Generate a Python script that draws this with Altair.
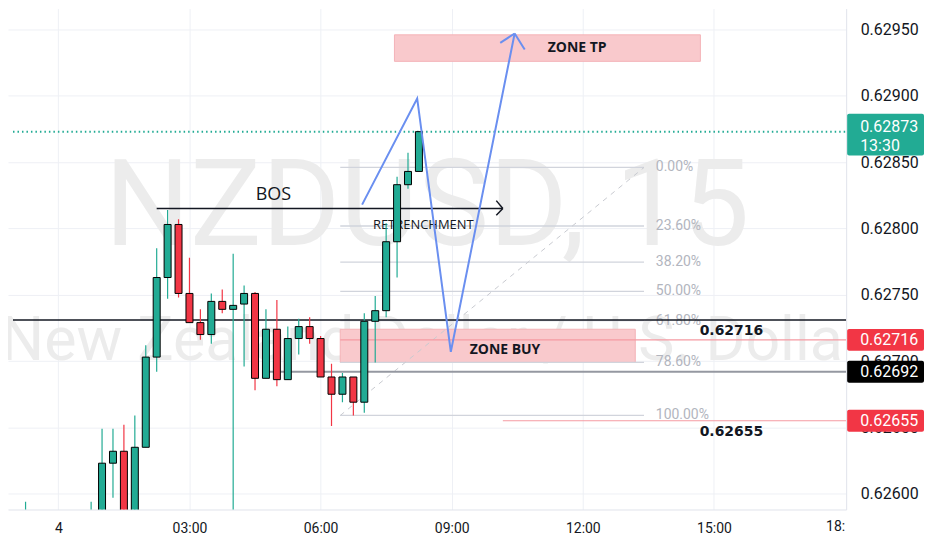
import altair as alt
import pandas as pd

# ---------------- data ----------------
# candle time in hours from 00:00 (15-minute bars)
c_time = [-0.75, 0.75, 1.0, 1.25, 1.5, 1.75, 2.0, 2.25, 2.5, 2.75, 3.0, 3.25, 3.5, 3.75,
          4.0, 4.25, 4.5, 4.75, 5.0, 5.25, 5.5, 5.75, 6.0, 6.25, 6.5, 6.75, 7.0, 7.25,
          7.5, 7.75, 8.0, 8.25]
c_open = [0.62575, 0.62578, 0.62580, 0.62623, 0.62632, 0.62582, 0.62635, 0.62703, 0.62763,
          0.62803, 0.62751, 0.62729, 0.62720, 0.62745, 0.62739, 0.62743, 0.62751, 0.62687,
          0.62724, 0.62686, 0.62717, 0.62726, 0.62717, 0.62688, 0.62675, 0.62688, 0.62669,
          0.62730, 0.62738, 0.62790, 0.62833, 0.62843]
c_high = [0.62594, 0.62594, 0.62649, 0.62649, 0.62652, 0.62659, 0.62712, 0.62785, 0.62814,
          0.62807, 0.62778, 0.62739, 0.62751, 0.62754, 0.62781, 0.62757, 0.62752, 0.62739,
          0.62746, 0.62726, 0.62732, 0.62733, 0.62719, 0.62698, 0.62691, 0.62688, 0.62736,
          0.62749, 0.62804, 0.62839, 0.62857, 0.62873]
c_low = [0.62570, 0.62570, 0.62575, 0.62597, 0.62575, 0.62578, 0.62635, 0.62692, 0.62747,
         0.62748, 0.62729, 0.62716, 0.62713, 0.62736, 0.62585, 0.62696, 0.62678, 0.62687,
         0.62681, 0.62686, 0.62705, 0.62713, 0.62688, 0.62651, 0.62669, 0.62659, 0.62661,
         0.62699, 0.62733, 0.62763, 0.62830, 0.62843]
c_close = [0.62585, 0.62587, 0.62623, 0.62632, 0.62582, 0.62635, 0.62703, 0.62763, 0.62803,
           0.62751, 0.62729, 0.62720, 0.62745, 0.62739, 0.62742, 0.62751, 0.62687, 0.62724,
           0.62686, 0.62717, 0.62726, 0.62717, 0.62688, 0.62675, 0.62688, 0.62669, 0.62730,
           0.62738, 0.62790, 0.62833, 0.62843, 0.62873]

price_ticks = [0.62600, 0.62650, 0.62700, 0.62750, 0.62800, 0.62850, 0.62900, 0.62950]
time_ticks = [0, 3, 6, 9, 12, 15]

# fibonacci retracement
fib_levels = ["0.00%", "23.60%", "38.20%", "50.00%", "61.80%", "78.60%", "100.00%"]
fib_ratio = [0.0, 0.236, 0.382, 0.5, 0.618, 0.786, 1.0]
fib_top, fib_bottom = 0.62846, 0.62659
fib_start, fib_end = 6.45, 13.40

# zones
zone_names = ["ZONE TP", "ZONE BUY"]
zone_x1 = [7.69, 6.45]
zone_x2 = [14.69, 13.20]
zone_lo = [0.62926, 0.62699]
zone_hi = [0.62946, 0.62724]
zone_label_x = [11.87, 10.22]
zone_label_y = [0.62936, 0.627085]

# blue projected path
path_x = [6.95, 8.21, 8.98, 10.44]
path_y = [0.62818, 0.62898, 0.62707, 0.62947]
path_head_x = [10.11, 10.67]
path_head_y = [0.62940, 0.62935]

# BOS
bos_level = 0.62815
bos_x1, bos_x2 = 2.25, 10.17
bos_head_x = 10.02
bos_head_y = [0.62821, 0.62810]

# horizontal price levels
lvl_black = 0.62731
lvl_red1 = 0.62716
lvl_gray = 0.62692
lvl_red2 = 0.62655
last_price = 0.62873

X0, X1 = -1.0377, 17.911
Y0, Y1 = 0.625881, 0.629658

GREEN = "#22ab94"
RED = "#f23645"

xs = alt.Scale(domain=[X0, X1], nice=False, zero=False)
ys = alt.Scale(domain=[Y0, Y1], nice=False, zero=False)

x_axis = alt.Axis(values=time_ticks, title=None, grid=True, gridColor="#eef0f5", tickSize=0,
                  domainColor="#e0e3eb", labelFontSize=14, labelColor="#131722", labelFont="Roboto",
                  labelPadding=12, labelFlush=False, labelOverlap=False,
                  labelExpr="datum.value == 0 ? '4' : (datum.value < 10 ? '0' : '') + datum.value + ':00'")
y_axis = alt.Axis(orient="right", values=price_ticks, format=".5f", title=None, grid=True,
                  gridColor="#eef0f5", tickSize=0, domainColor="#e0e3eb", labelFontSize=16,
                  labelColor="#131722", labelFont="Roboto", labelPadding=14, labelFlush=False,
                  labelOverlap=False)


def X(field):
    return alt.X(field, type="quantitative", scale=xs, axis=x_axis)


def Y(field):
    return alt.Y(field, type="quantitative", scale=ys, axis=y_axis)


candles = pd.DataFrame({"t": c_time, "o": c_open, "h": c_high, "l": c_low, "c": c_close})
candles["dir"] = ["up" if c >= o else "down" for o, c in zip(c_open, c_close)]
color = alt.Color("dir:N", scale=alt.Scale(domain=["up", "down"], range=[GREEN, RED]), legend=None)

one = pd.DataFrame({"a": [0]})

# watermark
wm1 = alt.Chart(one).mark_text(text="NZDUSD, 15", fontSize=120, font="Roboto",
                               color="#ececec", align="center", baseline="alphabetic",
                               clip=True).encode(x=alt.value(420), y=alt.value(237))
wm2 = alt.Chart(one).mark_text(text="New Zealand Dollar / U.S. Dollar", fontSize=61,
                               font="Roboto", color="#ececec", align="center",
                               baseline="alphabetic", clip=True).encode(x=alt.value(425), y=alt.value(352))

# grid carrier layer (axes)
grid = alt.Chart(candles).mark_point(opacity=0).encode(x=X("t"), y=Y("c"))

zones = pd.DataFrame({"name": zone_names, "x1": zone_x1, "x2": zone_x2, "lo": zone_lo, "hi": zone_hi,
                      "lx": zone_label_x, "ly": zone_label_y})
zone_rect = alt.Chart(zones).mark_rect(fill="#f9c9cc", stroke="#f4b3b8", strokeWidth=1, clip=True).encode(
    x=X("x1"), x2="x2", y=Y("lo"), y2="hi")
zone_text = alt.Chart(zones).mark_text(fontSize=14, fontWeight="bold", font="Open Sans", color="#131722",
                                       clip=True).encode(x=X("lx"), y=Y("ly"), text="name:N")

fib = pd.DataFrame({"label": fib_levels,
                    "p": [fib_top - r * (fib_top - fib_bottom) for r in fib_ratio]})
fib["x1"] = fib_start
fib["x2"] = fib_end
fib["lx"] = fib_end + 0.27
fib_lines = alt.Chart(fib).mark_rule(color="#d1d4dc", strokeWidth=1.3, clip=True).encode(
    x=X("x1"), x2="x2", y=Y("p"))
fib_text = alt.Chart(fib).mark_text(align="left", baseline="middle", fontSize=14, font="Roboto",
                                    color="#b2b5be", clip=True).encode(x=X("lx"), y=Y("p"), text="label:N")
fib_diag = alt.Chart(pd.DataFrame({"x1": [fib_start], "x2": [fib_end], "y1": [fib_bottom], "y2": [fib_top]})
                     ).mark_rule(color="#c8cad0", strokeDash=[5, 5], strokeWidth=1, clip=True).encode(
    x=X("x1"), x2="x2", y=Y("y1"), y2="y2")

levels = pd.DataFrame({"p": [lvl_black, lvl_red1, lvl_gray, lvl_red2, last_price],
                       "x1": [X0, 6.45, 4.75, 10.17, X0],
                       "k": ["black", "red", "gray", "red2", "last"]})
lv_black = alt.Chart(levels[levels.k == "black"]).mark_rule(color="#131722", strokeWidth=1.5, clip=True).encode(
    x=X("x1"), x2=alt.value(840), y=Y("p"))
lv_red = alt.Chart(levels[levels.k.isin(["red", "red2"])]).mark_rule(color="#f59aa2", strokeWidth=1.2,
                                                                       clip=True).encode(
    x=X("x1"), x2=alt.value(840), y=Y("p"))
lv_gray = alt.Chart(levels[levels.k == "gray"]).mark_rule(color="#9598a1", strokeWidth=2, clip=True).encode(
    x=X("x1"), x2=alt.value(840), y=Y("p"))
lv_last = alt.Chart(levels[levels.k == "last"]).mark_rule(color=GREEN, strokeWidth=2, strokeDash=[1.5, 3],
                                                          clip=True).encode(
    x=X("x1"), x2=alt.value(840), y=Y("p"))

lvl_labels = pd.DataFrame({"x": [15.40, 15.40], "p": [lvl_black, lvl_red2],
                           "txt": ["0.62716", "0.62655"]})
lv_text = alt.Chart(lvl_labels).mark_text(fontSize=14, fontWeight="bold", font="DejaVu Sans", color="#131722",
                                          baseline="middle", dy=11, clip=True).encode(
    x=X("x"), y=Y("p"), text="txt:N")

# BOS arrow
bos_seg = pd.DataFrame({"x1": [bos_x1, bos_head_x, bos_head_x], "x2": [bos_x2, bos_x2, bos_x2],
                        "y1": [bos_level, bos_head_y[0], bos_head_y[1]],
                        "y2": [bos_level, bos_level, bos_level]})
bos_lines = alt.Chart(bos_seg).mark_rule(color="#131722", strokeWidth=1.5, clip=True).encode(
    x=X("x1"), x2="x2", y=Y("y1"), y2="y2")
notes = pd.DataFrame({"x": [4.92, 8.35], "p": [0.62825, 0.628025], "txt": ["BOS", "RETRENCHMENT"]})
bos_text = alt.Chart(notes.iloc[[0]]).mark_text(fontSize=18, font="Open Sans", color="#131722",
                                                clip=True).encode(x=X("x"), y=Y("p"), text="txt:N")
ret_text = alt.Chart(notes.iloc[[1]]).mark_text(fontSize=13, font="Open Sans", color="#131722",
                                                clip=True).encode(x=X("x"), y=Y("p"), text="txt:N")

# candles
wicks = alt.Chart(candles).mark_rule(strokeWidth=1.2, clip=True).encode(x=X("t"), y=Y("l"), y2="h", color=color)
bodies = alt.Chart(candles).mark_bar(size=7, stroke="#000000", strokeWidth=1, clip=True).encode(
    x=X("t"), y=Y("o"), y2="c", color=color)

# blue path
path = pd.DataFrame({"x": path_x, "y": path_y, "i": list(range(len(path_x)))})
blue = alt.Chart(path).mark_line(color="#6a8ff0", strokeWidth=2, clip=True).encode(
    x=X("x"), y=Y("y"), order="i:Q")
head = pd.DataFrame({"x1": path_head_x, "y1": path_head_y, "x2": [path_x[-1]] * 2, "y2": [path_y[-1]] * 2})
blue_head = alt.Chart(head).mark_rule(color="#6a8ff0", strokeWidth=2, clip=True).encode(
    x=X("x1"), x2="x2", y=Y("y1"), y2="y2")

# price tags on the price axis
tag_price = [last_price, lvl_red1, lvl_gray, lvl_red2]
tag_txt = ["0.62873", "0.62716", "0.62692", "0.62655"]
tag_fill = [GREEN, RED, "#000000", RED]

tag_layers = []
for i, (p, t, f) in enumerate(zip(tag_price, tag_txt, tag_fill)):
    d = pd.DataFrame({"p": [p], "txt": [t]})
    up, down = (-18, 24) if i == 0 else (-11, 11)
    tag_layers.append(alt.Chart(d).mark_rect(yOffset=up, y2Offset=down, cornerRadius=2, fill=f).encode(
        x=alt.value(841), x2=alt.value(918), y=Y("p"), y2="p"))
    tag_layers.append(alt.Chart(d).mark_text(align="left", baseline="middle", fontSize=16, font="Roboto",
                                             color="white", dy=-5 if i == 0 else 0).encode(
        x=alt.value(854), y=Y("p"), text="txt:N"))

timer = alt.Chart(pd.DataFrame({"p": [last_price], "txt": ["13:30"]})).mark_text(
    align="left", baseline="middle", fontSize=16, font="Roboto", color="white", dy=14).encode(
    x=alt.value(854), y=Y("p"), text="txt:N")

# cut-off "18:" label
last_tick = alt.Chart(pd.DataFrame({"x": [18], "txt": ["18:"]})).mark_text(
    align="left", baseline="middle", fontSize=14, font="Roboto", color="#131722", dx=-19).encode(
    x=alt.X("x", type="quantitative", scale=xs, axis=x_axis), y=alt.value(520), text="txt:N")

chart = alt.layer(
    grid, wm1, wm2, zone_rect, fib_lines, fib_diag, fib_text, lv_gray, lv_red, lv_black, lv_last,
    bos_lines, bos_text, ret_text, zone_text, wicks, bodies, blue, blue_head, lv_text,
    *tag_layers, timer, last_tick
).properties(width=840, height=502, padding=0).configure_view(strokeWidth=0)

chart.save("out.html", embed_options={"renderer": "svg", "actions": False})
